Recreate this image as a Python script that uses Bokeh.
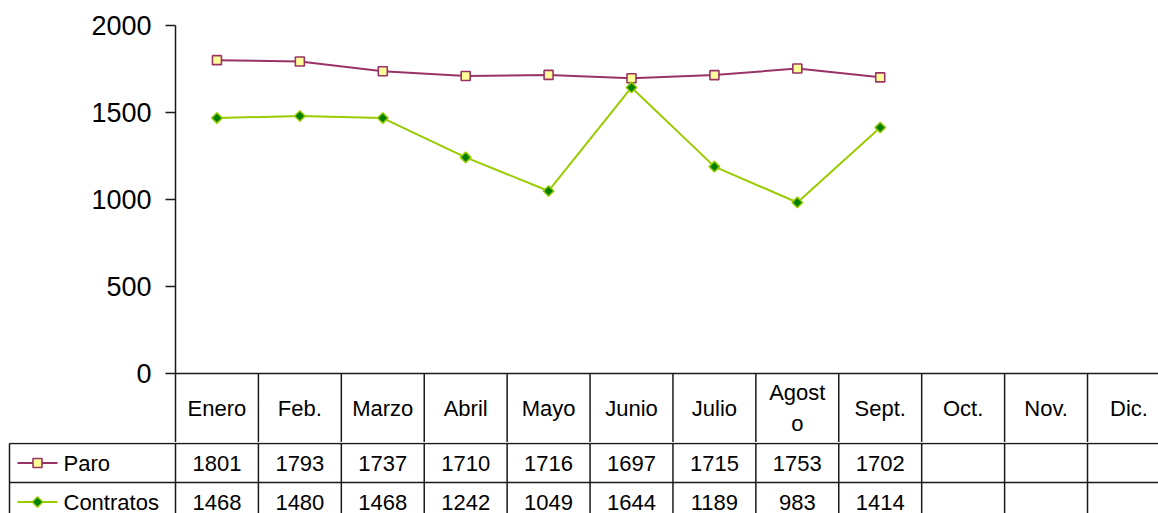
import math
from bokeh.plotting import figure
from bokeh.models import Range1d, FixedTicker
from bokeh.embed import file_html
from bokeh.resources import INLINE
from bokeh.core.properties import value

# ---- data ----
months = ["Enero", "Feb.", "Marzo", "Abril", "Mayo", "Junio", "Julio",
          "Agosto", "Sept.", "Oct.", "Nov.", "Dic."]
month_labels = ["Enero", "Feb.", "Marzo", "Abril", "Mayo", "Junio", "Julio",
                "Agost\no", "Sept.", "Oct.", "Nov.", "Dic."]
series_names = ["Paro", "Contratos"]
paro = [1801, 1793, 1737, 1710, 1716, 1697, 1715, 1753, 1702]
contratos = [1468, 1480, 1468, 1242, 1049, 1644, 1189, 983, 1414]
y_ticks = [0, 500, 1000, 1500, 2000]

# ---- layout constants (canvas pixels) ----
W = 1158
COL = 82.91          # width of one month column
LEFT = 175           # left edge of the plot frame
TOP = 25             # canvas y of the 2000 line
ZERO = 373           # canvas y of the 0 line
PXU = (ZERO - TOP) / 2000.0
H1 = 442             # top figure height (ends at bottom of header row)
H2 = 71              # bottom figure height (data rows)
ROW = 39             # data row height

FONT = value("Liberation Sans")
LINE_C = "#1a1a1a"
PARO_C, PARO_FILL = "#993366", "#FFFF99"
CONT_C, CONT_FILL = "#99CC00", "#008000"
DIAMOND = dict(marker="square", angle=math.pi / 4, size=7.5, fill_color=CONT_FILL,
               line_color=CONT_C, line_width=1.5)
SQUARE = dict(marker="square", size=9, fill_color=PARO_FILL, line_color=PARO_C, line_width=1.6)

x_end = (W - LEFT) / COL
y_start = -(H1 - ZERO) / PXU

# ================= top figure: chart + header row =================
p = figure(width=W, height=H1, x_range=Range1d(0, x_end), y_range=Range1d(y_start, 2000),
           output_backend="svg", toolbar_location=None, x_axis_location=None,
           min_border_left=LEFT, min_border_right=0, min_border_top=TOP, min_border_bottom=0)
p.outline_line_color = None
p.grid.visible = False
p.background_fill_color = "white"
p.border_fill_color = "white"

ax = p.yaxis[0]
ax.ticker = FixedTicker(ticks=y_ticks)
ax.axis_line_color = LINE_C
ax.axis_line_width = 1.5
ax.major_tick_line_color = LINE_C
ax.major_tick_line_width = 1.5
ax.major_tick_out = 10
ax.major_tick_in = 0
ax.minor_tick_line_color = None
ax.major_label_text_font = "Liberation Sans"
ax.major_label_text_font_size = "27px"
ax.major_label_text_color = "black"
ax.major_label_standoff = 14

xs = [i + 0.5 for i in range(len(months))]

# header row grid
p.segment(x0=[0], y0=[0], x1=[x_end], y1=[0], line_color=LINE_C, line_width=1.5)
p.segment(x0=list(range(1, 13)), y0=[0] * 12, x1=list(range(1, 13)), y1=[y_start] * 12,
          line_color=LINE_C, line_width=1.5)
header_y = -34.5 / PXU
p.text(x=xs, y=[header_y] * len(months), text=month_labels, text_align="center",
       text_baseline="middle", text_font=FONT, text_font_size="22px", text_color="black",
       text_line_height=1.25)

# series
p.line(xs[:len(paro)], paro, line_color=PARO_C, line_width=2)
p.scatter(xs[:len(paro)], paro, **SQUARE)
p.line(xs[:len(contratos)], contratos, line_color=CONT_C, line_width=2)
p.scatter(xs[:len(contratos)], contratos, **DIAMOND)

# ================= bottom figure: data table rows =================
x0_b = -LEFT / COL
p2 = figure(width=W, height=H2, x_range=Range1d(x0_b, x_end),
            y_range=Range1d(-(H2 - 1) / ROW, 1.0 / ROW),
            output_backend="svg", toolbar_location=None,
            x_axis_location=None, y_axis_location=None, min_border=0)
p2.outline_line_color = None
p2.grid.visible = False
p2.background_fill_color = "white"
p2.border_fill_color = "white"


def cx(canvas_x):
    return (canvas_x - LEFT) / COL


leg_left = cx(9)
p2.segment(x0=[leg_left] * 3, y0=[0, -1, -2], x1=[x_end] * 3, y1=[0, -1, -2],
           line_color=LINE_C, line_width=1.5)
vx = [leg_left] + list(range(0, 13))
p2.segment(x0=vx, y0=[0] * len(vx), x1=vx, y1=[-2] * len(vx), line_color=LINE_C, line_width=1.5)

# legend keys
row_y = [-0.5, -1.5]
p2.segment(x0=[cx(17)] * 2, y0=row_y, x1=[cx(57)] * 2, y1=row_y,
           line_color=[PARO_C, CONT_C], line_width=2)
p2.scatter([cx(37)], [row_y[0]], **SQUARE)
p2.scatter([cx(37)], [row_y[1]], **DIAMOND)
p2.text(x=[cx(63)] * 2, y=row_y, text=series_names, text_align="left", text_baseline="middle",
        text_font=FONT, text_font_size="22px", text_color="black")

# values
for vals, ry in zip([paro, contratos], row_y):
    p2.text(x=xs[:len(vals)], y=[ry] * len(vals), text=[str(v) for v in vals],
            text_align="center", text_baseline="middle", text_font=FONT,
            text_font_size="22px", text_color="black")

open("out.html", "w").write(file_html([p, p2], INLINE))
